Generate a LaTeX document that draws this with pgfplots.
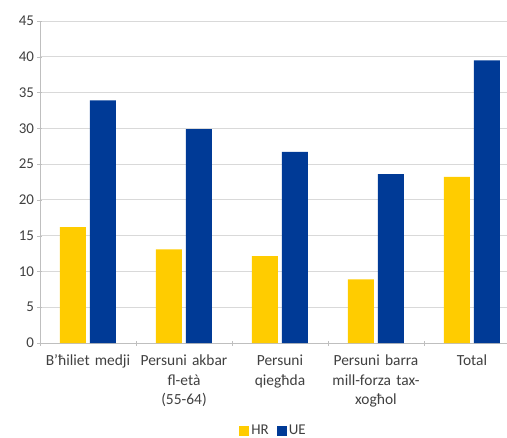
\documentclass[border=0pt]{standalone}
\usepackage{pgfplots}
\pgfplotsset{compat=1.18}
\usepackage{fontspec}
\setmainfont{Carlito}
\definecolor{hryellow}{HTML}{FFCC00}
\definecolor{ueblue}{HTML}{003A96}
\definecolor{gridgray}{HTML}{D9D9D9}
\definecolor{axisgray}{HTML}{BFBFBF}
\definecolor{labelgray}{HTML}{404040}
\begin{document}
\begin{tikzpicture}
\begin{axis}[
  at={(0,0)}, anchor=south west,
  scale only axis,
  width=467bp, height=322bp,
  ybar=4bp, bar width=26bp,
  xmin=-0.5, xmax=4.365,
  ymin=0, ymax=45,
  ytick={0,5,...,45},
  xtick={0,1,2,3,4},
  xticklabels={{B’ħiliet medji},{Persuni akbar\\fl-età\\(55-64)},{Persuni\\qiegħda},{Persuni barra\\mill-forza tax-\\xogħol},{Total}},
  x tick label style={align=center, text width=110bp, font=\fontsize{15.5}{19.5}\selectfont, text=labelgray, yshift=-6bp},
  y tick label style={font=\fontsize{15}{17}\selectfont, text=labelgray},
  /pgf/number format/assume math mode=true,
  minor xtick={-0.5,0.5,1.5,2.5,3.5},
  major x tick style={draw=none},
  minor x tick style={draw=axisgray},
  minor tick length=5bp,
  major tick length=5bp,
  tick align=outside,
  y tick style={draw=axisgray},
  axis lines=left,
  axis line style={draw=axisgray, -},
  ymajorgrids, grid style={gridgray, line width=0.8pt},
  legend style={at={(0.5,0)}, anchor=north, yshift=-78bp, draw=none, legend columns=2,
    font=\fontsize{15}{17}\selectfont, text=labelgray,
    /tikz/every even column/.append style={column sep=6bp}},
  legend image code/.code={\fill[#1] (0bp,-5bp) rectangle (10bp,5bp);},
  legend cell align=left,
]
\addplot[fill=hryellow, draw=none] coordinates {(0,16.2) (1,13.1) (2,12.15) (3,8.9) (4,23.2)};
\addplot[fill=ueblue, draw=none] coordinates {(0,33.9) (1,29.9) (2,26.7) (3,23.6) (4,39.5)};
\legend{HR,UE}
\end{axis}
\pgfresetboundingbox
\useasboundingbox (-40bp,-95bp) rectangle (467bp,343bp);
\end{tikzpicture}
\end{document}
